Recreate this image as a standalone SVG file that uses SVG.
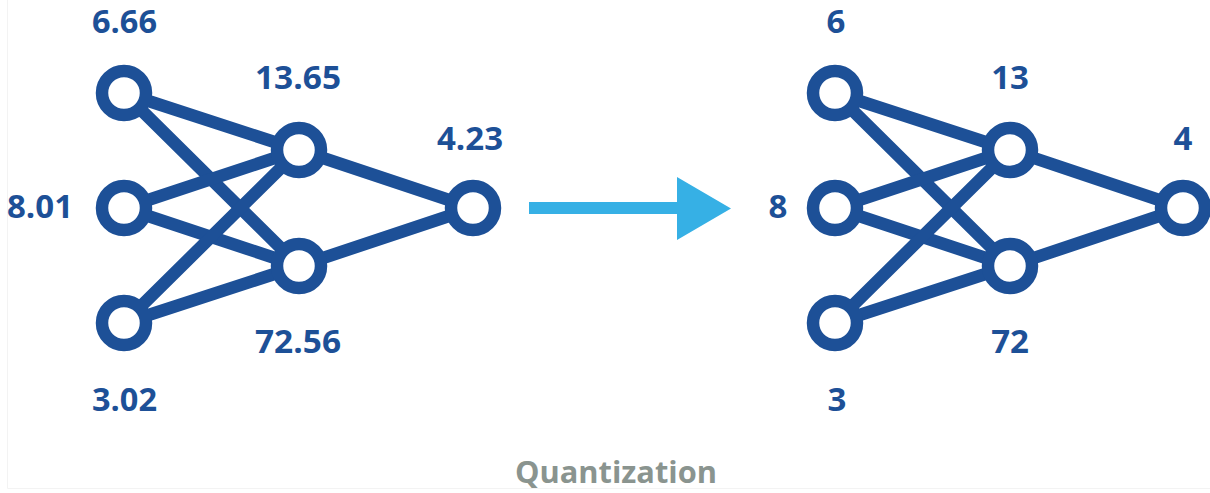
<svg xmlns="http://www.w3.org/2000/svg" width="1210" height="493" viewBox="0 0 1210 493">
<style>
.edge{stroke:#1d5097;stroke-width:12.5;stroke-linecap:round;fill:none}
.node{fill:#ffffff;stroke:#1d5097;stroke-width:12.5}
.lbl{font-family:"Open Sans","Liberation Sans",sans-serif;font-weight:700;font-size:33px;fill:#1d5097;text-anchor:middle}
.cap{font-family:"Open Sans","Liberation Sans",sans-serif;font-weight:700;font-size:30px;fill:#8a948f;text-anchor:middle}
</style>
<rect x="0" y="0" width="1210" height="493" fill="#ffffff"/>
<path d="M7.5 0 V488.5 H1210" fill="none" stroke="#f3f3f3" stroke-width="1"/>
<g id="connectors">
  <line class="edge" x1="124" y1="93" x2="299" y2="150"/>
  <line class="edge" x1="124" y1="93" x2="299" y2="266"/>
  <line class="edge" x1="124" y1="208" x2="299" y2="150"/>
  <line class="edge" x1="124" y1="208" x2="299" y2="266"/>
  <line class="edge" x1="124" y1="323" x2="299" y2="150"/>
  <line class="edge" x1="124" y1="323" x2="299" y2="266"/>
  <line class="edge" x1="299" y1="150" x2="473" y2="208"/>
  <line class="edge" x1="299" y1="266" x2="473" y2="208"/>
  <line class="edge" x1="835" y1="93" x2="1010" y2="150"/>
  <line class="edge" x1="835" y1="93" x2="1010" y2="266"/>
  <line class="edge" x1="835" y1="208" x2="1010" y2="150"/>
  <line class="edge" x1="835" y1="208" x2="1010" y2="266"/>
  <line class="edge" x1="835" y1="323" x2="1010" y2="150"/>
  <line class="edge" x1="835" y1="323" x2="1010" y2="266"/>
  <line class="edge" x1="1010" y1="150" x2="1183" y2="208"/>
  <line class="edge" x1="1010" y1="266" x2="1183" y2="208"/>
  <path d="M529 202 H677 V177 L731 208.5 L677 240 V214 H529 Z" fill="#36b0e5"/>
</g>
<g id="L-in1"><circle class="node" cx="124" cy="93" r="22"/><text class="lbl" x="124.5" y="33" textLength="65" lengthAdjust="spacingAndGlyphs">6.66</text></g>
<g id="L-in2"><circle class="node" cx="124" cy="208" r="22"/><text class="lbl" x="40" y="218" textLength="66" lengthAdjust="spacingAndGlyphs">8.01</text></g>
<g id="L-in3"><circle class="node" cx="124" cy="323" r="22"/><text class="lbl" x="124.5" y="411" textLength="65" lengthAdjust="spacingAndGlyphs">3.02</text></g>
<g id="L-h1"><circle class="node" cx="299" cy="150" r="22"/><text class="lbl" x="298" y="89" textLength="86" lengthAdjust="spacingAndGlyphs">13.65</text></g>
<g id="L-h2"><circle class="node" cx="299" cy="266" r="22"/><text class="lbl" x="298" y="353" textLength="86" lengthAdjust="spacingAndGlyphs">72.56</text></g>
<g id="L-out"><circle class="node" cx="473" cy="208" r="22"/><text class="lbl" x="470" y="150" textLength="66" lengthAdjust="spacingAndGlyphs">4.23</text></g>
<g id="R-in1"><circle class="node" cx="835" cy="93" r="22"/><text class="lbl" x="836" y="33">6</text></g>
<g id="R-in2"><circle class="node" cx="835" cy="208" r="22"/><text class="lbl" x="778" y="218">8</text></g>
<g id="R-in3"><circle class="node" cx="835" cy="323" r="22"/><text class="lbl" x="837" y="411">3</text></g>
<g id="R-h1"><circle class="node" cx="1010" cy="150" r="22"/><text class="lbl" x="1010" y="89">13</text></g>
<g id="R-h2"><circle class="node" cx="1010" cy="266" r="22"/><text class="lbl" x="1010" y="353">72</text></g>
<g id="R-out"><circle class="node" cx="1183" cy="208" r="22"/><text class="lbl" x="1183" y="150">4</text></g>
<text class="cap" x="616" y="483" textLength="202" lengthAdjust="spacingAndGlyphs">Quantization</text>
</svg>
